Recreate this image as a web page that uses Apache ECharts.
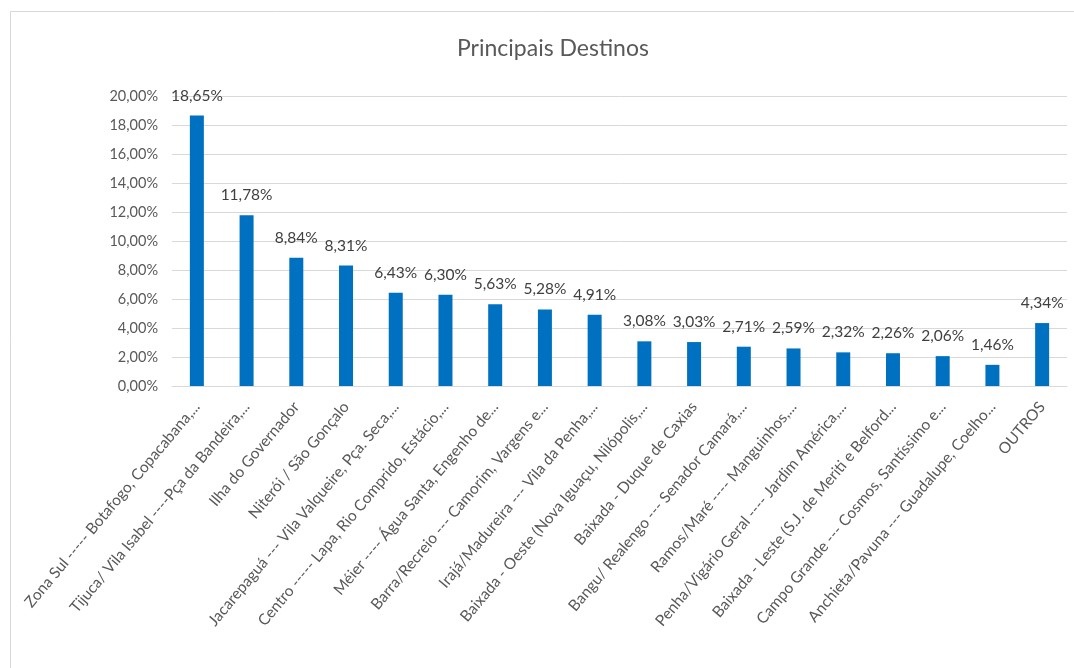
<!DOCTYPE html>
<html>
<head>
<meta charset="utf-8">
<script src="https://cdn.jsdelivr.net/npm/echarts@6/dist/echarts.min.js"></script>
<style>
html,body{margin:0;padding:0;background:#fff;}
#chart{width:1074px;height:668px;}
</style>
</head>
<body>
<div id="chart"></div>
<script>
const categories = [
  "Zona Sul ----- Botafogo, Copacabana,...",
  "Tijuca/ Vila Isabel ----Pça da Bandeira,...",
  "Ilha do Governador",
  "Niterói / São Gonçalo",
  "Jacarepaguá --- Vila Valqueire, Pça. Seca,...",
  "Centro ----- Lapa, Rio Comprido, Estácio,...",
  "Méier ---- Água Santa, Engenho de...",
  "Barra/Recreio --- Camorim, Vargens e...",
  "Irajá/Madureira --- Vila da Penha,...",
  "Baixada - Oeste (Nova Iguaçu, Nilópolis,...",
  "Baixada - Duque de Caxias",
  "Bangu/ Realengo --- Senador Camará,...",
  "Ramos/Maré ---- Manguinhos,...",
  "Penha/Vigário Geral ---- Jardim América,...",
  "Baixada - Leste (S.J. de Meriti e Belford...",
  "Campo Grande --- Cosmos, Santíssimo e...",
  "Anchieta/Pavuna --- Guadalupe, Coelho...",
  "OUTROS"
];
const values = [18.65, 11.78, 8.84, 8.31, 6.43, 6.30, 5.63, 5.28, 4.91, 3.08, 3.03, 2.71, 2.59, 2.32, 2.26, 2.06, 1.46, 4.34];
const titleText = "Principais Destinos";

const fmt = v => v.toFixed(2).replace('.', ',') + '%';
const font = "Lato, 'Open Sans', sans-serif";
const chart = echarts.init(document.getElementById('chart'));
chart.setOption({
  backgroundColor: '#fff',
  animation: false,
  graphic: [{
    type: 'rect', left: 8, top: 9,
    shape: {width: 1080, height: 700},
    style: {fill: 'none', stroke: '#d9d9d9', lineWidth: 1}, z: -1
  }],
  title: {
    text: titleText, left: 452, top: 32,
    textStyle: {fontFamily: font, fontSize: 23, fontWeight: 'normal', color: '#595959'}
  },
  grid: {left: 172, right: 7, top: 96, bottom: 282},
  xAxis: {
    type: 'category', data: categories,
    axisLine: {lineStyle: {color: '#d9d9d9'}},
    axisTick: {show: false},
    axisLabel: {rotate: 50, interval: 0, color: '#595959', fontFamily: font, fontSize: 15.5, margin: 18}
  },
  yAxis: {
    type: 'value', min: 0, max: 20, interval: 2,
    axisLine: {show: false}, axisTick: {show: false},
    splitLine: {lineStyle: {color: '#d9d9d9'}},
    axisLabel: {formatter: fmt, color: '#595959', fontFamily: font, fontSize: 14.5, margin: 14}
  },
  series: [{
    type: 'bar', data: values, barWidth: 14,
    itemStyle: {color: '#0070C0'},
    label: {show: true, position: 'top', distance: 12, formatter: p => fmt(p.value), color: '#404040', fontFamily: font, fontSize: 15.5}
  }]
});
</script>
</body>
</html>
